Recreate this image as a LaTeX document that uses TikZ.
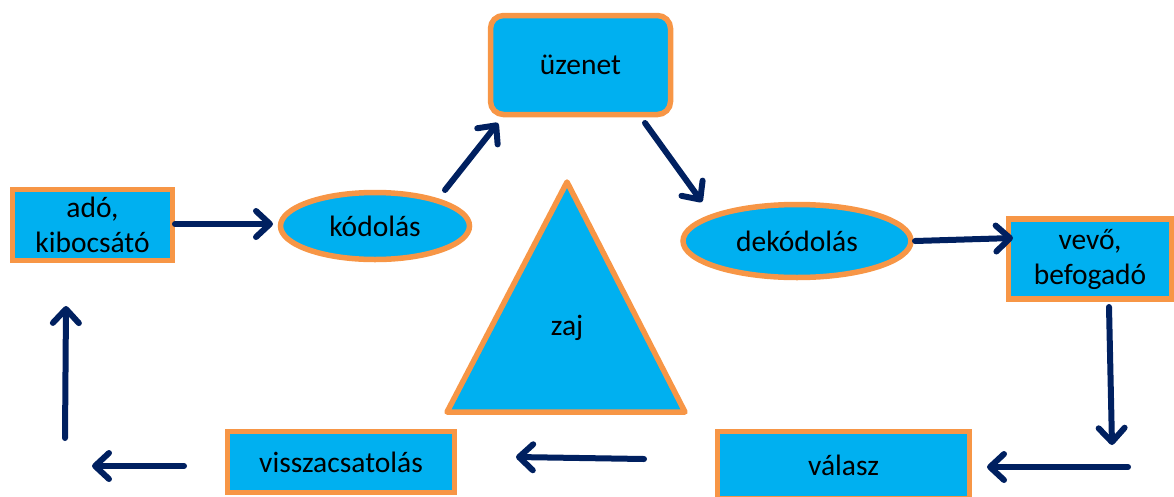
\documentclass[tikz,border=0pt]{standalone}
\usepackage{fontspec}
\setmainfont{Carlito}
\usetikzlibrary{arrows.meta,shapes.geometric}
\definecolor{fillblue}{RGB}{0,176,240}
\definecolor{edgeorange}{RGB}{247,150,70}
\definecolor{navyarrow}{RGB}{0,32,96}
\begin{document}
\begin{tikzpicture}[x=1pt,y=-1pt,
  shapebase/.style={draw=edgeorange,fill=fillblue,line width=5.5pt,inner sep=0pt,
    font=\fontsize{29.5}{35}\selectfont,align=center},
  rbox/.style={shapebase,rectangle},
  ellbox/.style={shapebase,ellipse},
  conn/.style={draw=navyarrow,line width=6pt,line cap=round,
    -{Straight Barb[length=14pt,width=26pt,round]}}]
\useasboundingbox (0,0) rectangle (1174,496);

% nodes
\node[rbox,minimum width=160pt,minimum height=71pt] (ado) at (92.5,225) {adó,\\kibocsátó};
\node[ellbox,minimum width=189pt,minimum height=67pt] (kod) at (375,226) {kódolás};
\node[rbox,rounded corners=13pt,minimum width=180pt,minimum height=99pt] (uze) at (580.5,65) {üzenet};
\node[ellbox,minimum width=228pt,minimum height=73pt] (dek) at (797,241) {dekódolás};
\node[rbox,minimum width=163pt,minimum height=80pt] (vev) at (1090,259) {vevő,\\befogadó};
\node[rbox,minimum width=252pt,minimum height=67pt] (val) at (843.5,465) {válasz};
\node[rbox,minimum width=227pt,minimum height=61pt] (vis) at (341,462) {visszacsatolás};

% triangle (zaj)
\coordinate (tA) at (567,182);
\coordinate (tB) at (685,412);
\coordinate (tC) at (447,412);
\draw[draw=edgeorange,fill=fillblue,line width=5.5pt,line join=round] (tA) -- (tB) -- (tC) -- cycle;
\node[font=\fontsize{29.5}{35}\selectfont,anchor=base,inner sep=0pt] (zaj) at (567,335) {zaj};

% arrow end points
\coordinate (a1s) at (175,224);  \coordinate (a1e) at (273,224);
\coordinate (a2s) at (445,190);  \coordinate (a2e) at (498,123);
\coordinate (a3s) at (645,123);  \coordinate (a3e) at (702,202);
\coordinate (a4s) at (915,241);  \coordinate (a4e) at (1013,238);
\coordinate (a5s) at (1109,307); \coordinate (a5e) at (1112,445);
\coordinate (a6s) at (1128,467); \coordinate (a6e) at (987,467);
\coordinate (a7s) at (644,459);  \coordinate (a7e) at (516,457);
\coordinate (a8s) at (184,466);  \coordinate (a8e) at (92,466);
\coordinate (a9s) at (65,438);   \coordinate (a9e) at (66,306);

\draw[conn] (a1s) -- (a1e);
\draw[conn] (a2s) -- (a2e);
\draw[conn] (a3s) -- (a3e);
\draw[conn] (a4s) -- (a4e);
\draw[conn] (a5s) -- (a5e);
\draw[conn] (a6s) -- (a6e);
\draw[conn] (a7s) -- (a7e);
\draw[conn] (a8s) -- (a8e);
\draw[conn] (a9s) -- (a9e);
\end{tikzpicture}
\end{document}
